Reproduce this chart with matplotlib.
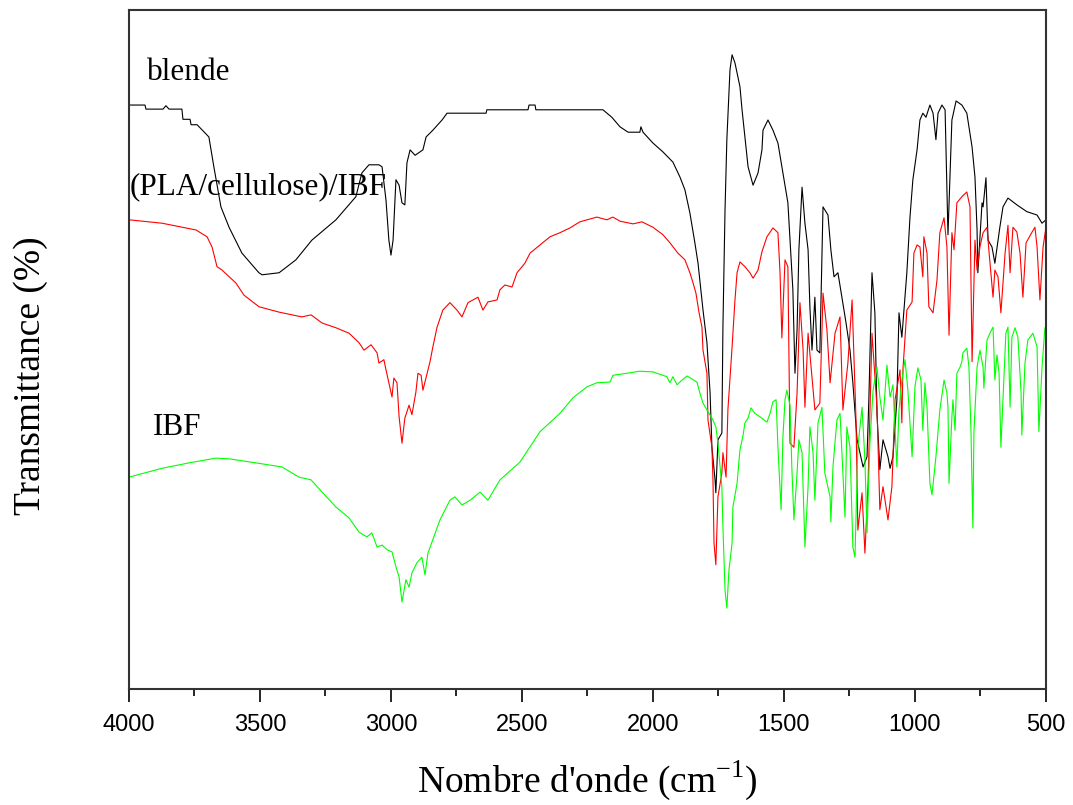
import matplotlib
matplotlib.use("Agg")
import matplotlib.pyplot as plt
import numpy as np

# IR spectra, wavenumber (cm-1) and transmittance (arbitrary %, no y ticks)
wn_blende = [4000, 3939, 3935, 3870, 3859, 3847, 3798, 3794, 3767, 3763, 3740, 3695, 3676, 3649,
             3618, 3569, 3504, 3492, 3427, 3363, 3302, 3210, 3134, 3111, 3084, 3046, 3034, 3019,
             3008, 3000, 2992, 2981, 2969, 2958, 2947, 2939, 2927, 2908, 2878, 2866, 2840, 2805,
             2786, 2637, 2634, 2477, 2473, 2450, 2447, 2191, 2157, 2126, 2095, 2050, 2046, 2038,
             2000, 1962, 1924, 1897, 1878, 1859, 1840, 1828, 1821, 1809, 1794, 1782, 1775, 1763,
             1760, 1752, 1737, 1733, 1725, 1718, 1706, 1698, 1687, 1668, 1660, 1649, 1637, 1618,
             1599, 1584, 1580, 1561, 1542, 1523, 1504, 1485, 1477, 1466, 1458, 1450, 1443, 1431,
             1420, 1408, 1401, 1393, 1382, 1374, 1363, 1351, 1332, 1321, 1309, 1294, 1279, 1263,
             1248, 1237, 1221, 1210, 1198, 1183, 1176, 1164, 1153, 1145, 1134, 1122, 1103, 1095,
             1084, 1069, 1061, 1050, 1031, 1019, 1008, 992, 981, 970, 958, 943, 931, 920, 912,
             897, 885, 874, 859, 843, 821, 802, 782, 771, 763, 760, 744, 740, 729, 721, 706, 695,
             676, 664, 645, 611, 573, 534, 515, 500]
t_blende = [86.0, 86.0, 85.4, 85.4, 85.9, 85.4, 85.4, 83.9, 83.9, 83.1, 83.1, 81.3, 76.9, 71.0,
            68.0, 64.2, 61.3, 61.0, 61.3, 63.2, 66.1, 69.1, 72.5, 76.0, 77.2, 77.2, 76.9, 72.0,
            66.1, 63.9, 66.1, 75.0, 74.2, 71.6, 71.3, 77.5, 79.4, 78.6, 79.4, 81.3, 82.3, 83.8,
            84.8, 84.8, 85.3, 85.3, 86.0, 86.0, 85.3, 85.3, 84.2, 82.8, 82.0, 82.0, 82.8, 82.0,
            80.4, 79.1, 77.6, 75.4, 73.5, 70.1, 65.7, 62.7, 60.2, 55.8, 51.0, 43.6, 35.6, 30.8,
            28.9, 36.7, 37.7, 53.3, 70.5, 80.9, 91.2, 93.4, 92.2, 88.7, 85.3, 81.3, 76.9, 74.2,
            76.0, 79.4, 82.3, 83.8, 82.3, 80.4, 76.0, 71.6, 66.1, 58.8, 46.5, 52.9, 64.7, 73.9,
            68.6, 64.7, 56.3, 49.9, 57.7, 49.9, 49.5, 71.0, 69.8, 64.7, 60.7, 61.3, 57.7, 53.9,
            49.9, 45.1, 36.7, 34.8, 32.7, 34.2, 42.6, 61.3, 55.4, 40.6, 32.3, 36.7, 34.2, 32.5,
            34.2, 42.6, 55.4, 51.8, 61.3, 69.5, 75.0, 79.4, 83.8, 84.8, 84.2, 86.0, 84.8, 80.9, 84.8,
            86.0, 85.3, 66.9, 83.8, 86.6, 86.0, 84.8, 79.8, 75.4, 67.6, 61.3, 71.6, 71.0, 75.3,
            66.1, 65.1, 62.7, 68.0, 71.0, 72.3, 71.3, 70.3, 69.8, 68.6, 69.1]

wn_pla = [4000, 3874, 3744, 3702, 3683, 3664, 3645, 3592, 3561, 3504, 3427, 3340, 3305, 3263,
          3210, 3160, 3122, 3103, 3076, 3053, 3046, 3027, 3019, 3008, 2996, 2989, 2977, 2969,
          2958, 2947, 2931, 2920, 2905, 2897, 2885, 2878, 2851, 2840, 2824, 2802, 2775, 2748,
          2729, 2706, 2668, 2649, 2630, 2595, 2584, 2565, 2538, 2519, 2489, 2469, 2431, 2393,
          2355, 2317, 2279, 2214, 2176, 2153, 2126, 2076, 2042, 2000, 1962, 1935, 1905, 1878,
          1859, 1847, 1836, 1824, 1813, 1809, 1794, 1790, 1775, 1771, 1767, 1760, 1752, 1737,
          1733, 1721, 1714, 1698, 1687, 1679, 1668, 1649, 1630, 1618, 1599, 1584, 1565, 1542,
          1523, 1515, 1508, 1496, 1485, 1477, 1462, 1450, 1439, 1427, 1420, 1408, 1382, 1363,
          1351, 1336, 1324, 1305, 1286, 1275, 1256, 1240, 1225, 1218, 1202, 1191, 1179, 1164,
          1145, 1134, 1122, 1103, 1088, 1076, 1057, 1050, 1046, 1031, 1011, 1004, 992, 981, 970,
          966, 954, 947, 931, 916, 905, 889, 878, 870, 859, 851, 840, 821, 802, 790, 782, 771,
          763, 752, 740, 725, 717, 702, 695, 683, 672, 656, 645, 637, 626, 611, 599, 588, 576,
          553, 542, 534, 523, 511, 500]
t_pla = [69.1, 68.6, 67.6, 66.6, 65.1, 62.2, 61.7, 59.8, 58.0, 56.3, 55.5, 54.8, 55.1, 53.9,
         53.2, 52.4, 51.0, 49.9, 50.7, 49.5, 48.0, 48.5, 47.0, 45.1, 43.0, 45.8, 45.1, 40.1,
         36.2, 39.9, 41.8, 40.4, 43.7, 46.5, 46.2, 44.0, 48.2, 50.4, 53.3, 55.8, 56.9, 55.8,
         54.8, 56.9, 57.7, 55.8, 57.0, 57.3, 58.8, 59.5, 59.2, 61.3, 62.7, 64.2, 65.4, 66.6,
         67.2, 67.9, 68.8, 69.5, 69.1, 69.5, 68.9, 68.5, 68.8, 68.0, 66.9, 65.7, 64.2, 63.2,
         61.3, 59.8, 58.3, 55.4, 53.3, 49.9, 46.5, 39.6, 35.6, 30.8, 21.5, 18.3, 28.3, 31.8,
         34.8, 31.2, 41.1, 50.4, 57.3, 61.3, 62.9, 62.2, 61.3, 60.5, 61.7, 64.4, 66.6, 67.9,
         67.2, 61.3, 51.7, 63.2, 62.2, 36.2, 35.6, 43.6, 56.9, 49.9, 41.5, 52.4, 41.1, 42.1,
         58.3, 52.9, 45.1, 52.4, 54.8, 41.1, 48.0, 57.3, 39.6, 23.4, 28.9, 20.0, 30.3, 52.4,
         41.5, 26.4, 29.8, 24.9, 29.8, 42.6, 47.0, 39.2, 47.0, 55.8, 57.0, 64.2, 65.4, 65.1, 60.7,
         66.6, 64.2, 56.3, 55.4, 60.2, 67.2, 69.4, 65.1, 52.1, 67.2, 64.7, 71.6, 72.5, 73.2, 71.0,
         48.2, 66.1, 61.7, 65.1, 67.2, 68.0, 64.2, 57.7, 61.7, 60.7, 55.4, 64.2, 68.3, 61.3,
         68.0, 67.3, 64.2, 57.7, 65.7, 67.3, 68.0, 65.1, 57.3, 65.1, 68.0]

wn_ibf = [4000, 3874, 3771, 3668, 3618, 3515, 3416, 3351, 3305, 3263, 3210, 3160, 3122, 3092,
          3073, 3053, 3034, 3015, 2996, 2981, 2969, 2958, 2943, 2931, 2920, 2901, 2882, 2870,
          2859, 2813, 2775, 2756, 2729, 2698, 2660, 2630, 2584, 2508, 2431, 2355, 2305, 2252,
          2214, 2164, 2153, 2099, 2050, 2000, 1947, 1935, 1924, 1908, 1889, 1870, 1832, 1821,
          1809, 1794, 1771, 1760, 1752, 1737, 1733, 1725, 1718, 1710, 1698, 1695, 1679, 1668,
          1656, 1649, 1637, 1626, 1611, 1592, 1565, 1553, 1542, 1530, 1523, 1511, 1504, 1496,
          1489, 1477, 1470, 1462, 1450, 1443, 1431, 1420, 1408, 1401, 1389, 1382, 1370, 1355,
          1344, 1324, 1321, 1313, 1298, 1286, 1275, 1267, 1260, 1248, 1237, 1229, 1218, 1202,
          1191, 1183, 1172, 1160, 1145, 1134, 1122, 1107, 1095, 1084, 1069, 1061, 1050, 1038,
          1027, 1011, 1000, 989, 977, 970, 962, 954, 943, 935, 920, 905, 889, 878, 874, 870, 859,
          855, 847, 840, 828, 821, 817, 802, 794, 786, 779, 775, 763, 752, 740, 737, 725, 714,
          702, 695, 687, 679, 672, 664, 653, 645, 637, 630, 618, 607, 595, 592, 580, 569, 550,
          534, 527, 515, 504, 500]
t_ibf = [31.2, 32.5, 33.3, 34.0, 33.9, 33.3, 32.7, 31.2, 30.8, 29.0, 26.8, 25.2, 23.1, 22.4,
         23.0, 20.9, 21.2, 20.5, 20.2, 18.0, 16.5, 12.8, 16.1, 15.0, 17.1, 18.6, 19.4, 16.8,
         20.0, 24.9, 27.8, 28.3, 27.1, 27.8, 29.0, 27.8, 30.8, 33.4, 37.9, 40.6, 42.9, 44.5,
         45.1, 45.2, 46.2, 46.5, 46.8, 46.7, 46.0, 45.1, 46.0, 44.8, 45.5, 46.1, 45.2, 43.6,
         42.1, 41.1, 39.6, 38.6, 36.2, 29.8, 23.9, 14.6, 11.9, 17.5, 21.5, 26.8, 30.3, 35.2,
         37.4, 39.2, 39.9, 41.4, 40.6, 40.1, 39.3, 40.6, 42.3, 42.6, 35.6, 26.4, 37.1, 42.6,
         44.0, 41.8, 32.7, 24.9, 31.8, 36.7, 34.8, 20.9, 29.8, 38.6, 34.8, 27.8, 39.2, 41.5,
         31.8, 28.3, 24.6, 32.7, 39.6, 40.6, 31.8, 25.3, 38.6, 35.6, 20.9, 19.4, 35.6, 41.5,
         33.7, 23.0, 36.2, 44.0, 47.4, 43.0, 39.6, 47.7, 43.0, 44.8, 32.7, 41.1, 45.5, 48.5,
         44.0, 34.2, 44.5, 47.3, 45.5, 38.1, 45.1, 41.5, 30.3, 28.6, 34.2, 41.1, 45.5, 43.6, 41.5,
         30.3, 40.1, 42.6, 38.1, 46.5, 47.4, 48.2, 49.5, 50.2, 47.4, 37.7, 23.7, 37.7, 47.4,
         49.9, 47.4, 44.3, 51.4, 52.4, 53.3, 45.5, 49.2, 46.5, 35.6, 42.6, 52.4, 53.3, 41.5,
         51.8, 53.2, 51.8, 43.6, 37.4, 48.0, 51.4, 52.4, 50.4, 37.9, 47.4, 53.2, 53.2]

fig = plt.figure(figsize=(10.73, 8.05), dpi=100)
ax = fig.add_axes([0.1202, 0.1441, 0.8546, 0.8435])

ax.plot(wn_blende, t_blende, color='black', lw=0.8)
ax.plot(wn_pla, t_pla, color='#ff0000', lw=0.8)
ax.plot(wn_ibf, t_ibf, color='#00ff00', lw=0.8)

serif = ['Liberation Serif', 'DejaVu Serif']
ax.text(3931, 89.7, 'blende', family=serif, fontsize=22.5)
ax.text(3996, 72.8, '(PLA/cellulose)/IBF', family=serif, fontsize=22.5)
ax.text(3908, 37.4, 'IBF', family=serif, fontsize=22.5)

ax.set_xlim(4000, 500)
ax.set_ylim(0, 100)
ax.set_xticks(np.arange(4000, 499, -500))
ax.set_xticks(np.arange(3750, 500, -500), minor=True)
ax.set_yticks([])
ax.tick_params(axis='x', which='major', direction='out', length=9, width=1.2, pad=9)
ax.tick_params(axis='x', which='minor', direction='out', length=5, width=1.2)
for lab in ax.get_xticklabels():
    lab.set_family(['Liberation Sans', 'DejaVu Sans'])
    lab.set_fontsize(17)
for sp in ax.spines.values():
    sp.set_linewidth(1.5)
    sp.set_color('#333333')

ax.set_xlabel("Nombre d'onde (cm$^{\\mathregular{-1}}$)", family=serif, fontsize=27, labelpad=16)
ax.set_ylabel('Transmittance (%)', family=serif, fontsize=27)
ax.yaxis.set_label_coords(-0.088, 0.462)

fig.savefig('out.png', dpi=100)
